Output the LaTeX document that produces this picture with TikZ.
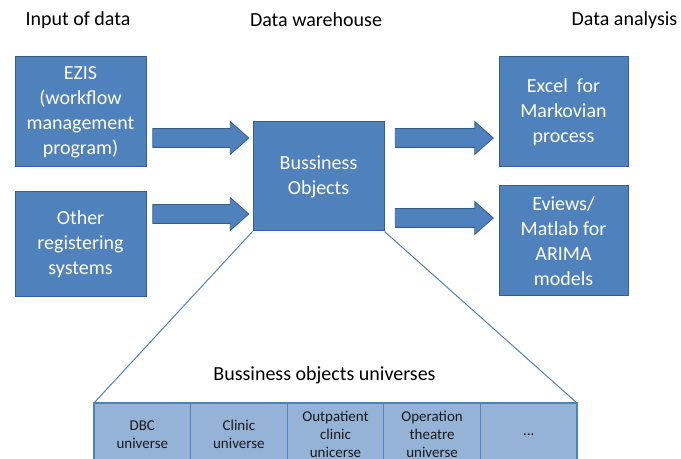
\documentclass[tikz,border=0pt]{standalone}
\usepackage{fontspec}
\setmainfont{Carlito}
\usetikzlibrary{shapes.arrows, positioning, calc}

\definecolor{boxblue}{HTML}{4F81BD}
\definecolor{boxedge}{HTML}{385D8A}
\definecolor{cellblue}{HTML}{95B3D7}

\tikzset{
  block/.style={draw=boxedge, fill=boxblue, line width=0.5pt, text=white, align=center,
    minimum width=65.5pt, minimum height=55pt, inner sep=0pt, font=\fontsize{10}{12.5}\selectfont},
  fatarrow/.style={single arrow, draw=boxedge, fill=boxblue, line width=0.4pt,
    inner xsep=0pt, inner ysep=4.5pt, minimum height=48pt, single arrow head extend=3.5pt,
    single arrow tip angle=83},
  heading/.style={font=\fontsize{10}{12}\selectfont},
  cell/.style={draw=boxblue, fill=cellblue, line width=0.6pt, align=center, outer sep=0pt,
    minimum width=48.3pt, minimum height=31.5pt, inner sep=0pt, text=black!90,
    font=\fontsize{7.5}{9}\selectfont},
  spoke/.style={draw=boxblue, line width=0.5pt},
}

\begin{document}
\begin{tikzpicture}[x=0.5pt, y=-0.5pt]
    \useasboundingbox (0,0) rectangle (681,459);
    \clip (0,0) rectangle (681,459);

    % column titles
    \node[heading] (tin) at (78,20) {Input of data};
    \node[heading] (twh) at (316,20) {Data warehouse};
    \node[heading] (tan) at (624.5,20) {Data analysis};

    % sources
    \node[block] (ezis) at (80.5,112) {EZIS\\(workflow\\management\\program)};
    \node[block, minimum height=52.5pt] (other) at (80.5,244.5) {Other\\registering\\systems};

    % warehouse
    \node[block, minimum height=54.5pt] (bo) at (318.5,176.5) {Bussiness\\Objects};

    % analysis tools
    \node[block, minimum width=64.5pt] (excel) at (563.5,112) {Excel~ for\\Markovian\\process};
    \node[block, minimum width=64.5pt] (eviews) at (563.5,241) {Eviews/\\Matlab for\\ARIMA\\models};

    % flow arrows
    \node[fatarrow] (a1) at (195.5,138) {};
    \node[fatarrow] (a2) at (195.5,214) {};
    \node[fatarrow, minimum height=49pt] (a3) at (439,138) {};
    \node[fatarrow, minimum height=49pt] (a4) at (439,218) {};

    % universes
    \node[heading] (uni) at (324.5,375) {Bussiness objects universes};
    \node[cell] (dbc) at (142.3,434.5) {DBC\\universe};
    \node[cell, right=0pt of dbc] (clinic) {Clinic\\universe};
    \node[cell, right=0pt of clinic] (outpat) {Outpatient\\clinic\\unicerse};
    \node[cell, right=0pt of outpat] (oper) {Operation\\theatre\\universe};
    \node[cell, right=0pt of oper] (more) {...};

    \draw[spoke] (bo.south west) -- (dbc.north west);
    \draw[spoke] (bo.south east) -- (more.north east);
\end{tikzpicture}
\end{document}
